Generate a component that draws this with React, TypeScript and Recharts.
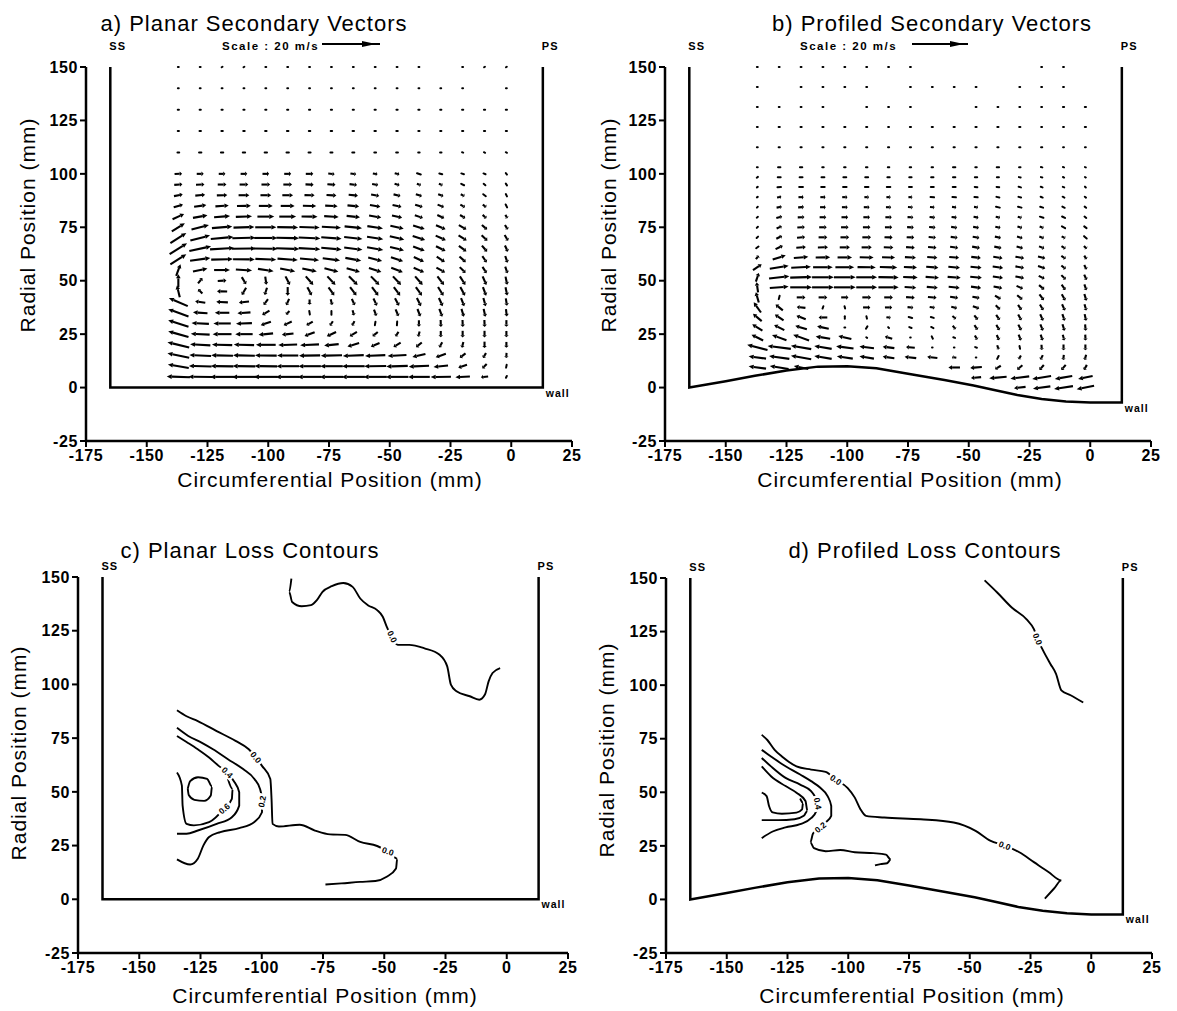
import React from 'react'
import { ComposedChart, Line, Scatter, XAxis, YAxis } from 'recharts'

const FONT = '"Liberation Sans", Arial, Helvetica, sans-serif'

const xTicks = [-175, -150, -125, -100, -75, -50, -25, 0, 25]
const yTicks = [-25, 0, 25, 50, 75, 100, 125, 150]

// measurement grid (mm)
const vectorCols = [-137, -128, -119, -110, -101, -92, -83, -74, -65, -56, -47, -38, -29, -20, -11, -2]
const planarRows = [150, 140, 130, 120, 110, 100, 95, 90, 85, 80, 75, 70, 65, 60, 55, 50, 45, 40, 35, 30, 25, 20, 15, 10, 5]
const profiledRows = [150, 140.6, 131.3, 121.9, 112.5, 103.1, 98.4, 93.8, 89.1, 84.4, 79.7, 75, 70.3, 65.6, 60.9, 56.3, 51.6, 46.9, 42.2, 37.5, 32.8, 28.1, 23.4, 18.8, 14.1, 9.4, 4.7, 0]

// secondary velocity components (m/s), one row per radial station
const planarU = [
  [0.3, 0.3, 0.3, 0.3, 0.3, 0.3, 0.3, 0.3, 0.3, 0.3, 0.3, 0.3, 0, 0.3, 0.3, 0.3],
  [0.3, 0.3, 0.3, 0.3, 0.3, 0.3, 0.3, 0.3, 0.3, 0.3, 0.3, 0.3, 0.3, 0.3, 0, 0.3],
  [0.4, 0.4, 0.4, 0.4, 0.4, 0.4, 0.4, 0.4, 0.4, 0.4, 0.4, 0.4, 0.4, 0.4, 0.4, 0.4],
  [0.4, 0.5, 0.5, 0.5, 0.5, 0.5, 0.5, 0.5, 0.5, 0.5, 0.5, 0.4, 0.4, 0.4, 0.4, 0.4],
  [0.6, 0.8, 0.8, 0.8, 0.8, 0.8, 0.7, 0.7, 0.7, 0.6, 0.6, 0.5, 0.5, 0.4, 0.4, 0.4],
  [2.6, 2.4, 2.3, 2.3, 2.3, 2.4, 2.6, 2.2, 2.0, 1.6, 1.6, 1.3, 1.0, 0.9, 0.7, 0.4],
  [2.8, 2.9, 3.0, 3.0, 3.0, 3.0, 2.8, 2.8, 2.6, 2.1, 1.7, 1.4, 1.3, 1.0, 0.6, 0.4],
  [3.0, 3.4, 3.6, 3.7, 3.7, 3.7, 3.5, 3.4, 3.2, 2.8, 2.4, 2.1, 1.8, 1.3, 0.9, 0.4],
  [3.2, 4.2, 4.6, 4.8, 4.8, 4.8, 4.6, 4.3, 4.0, 3.6, 3.1, 2.6, 2.2, 1.6, 1.2, 0.5],
  [4.0, 5.0, 5.5, 5.6, 5.8, 5.8, 5.5, 5.0, 4.6, 4.2, 3.5, 2.8, 2.4, 1.8, 1.3, 0.7],
  [4.5, 6.0, 7.0, 7.2, 7.3, 7.2, 7.0, 6.6, 6.0, 5.4, 4.6, 4.0, 3.3, 2.6, 1.8, 1.0],
  [5.5, 6.8, 7.8, 8.0, 8.0, 7.8, 7.5, 7.0, 6.3, 5.6, 5.0, 4.3, 3.5, 2.8, 2.0, 1.2],
  [6.0, 7.5, 8.3, 8.3, 8.2, 8.0, 7.5, 7.0, 6.3, 5.6, 4.8, 4.0, 3.3, 2.6, 1.8, 1.0],
  [5.5, 7.0, 7.5, 7.5, 7.2, 7.0, 6.6, 6.0, 5.5, 4.8, 4.2, 3.5, 2.8, 2.2, 1.5, 0.8],
  [1.5, 5.0, 5.5, 5.6, 5.4, 5.2, 5.0, 4.8, 4.6, 4.3, 4.0, 3.6, 3.0, 2.0, 1.4, 0.8],
  [0, 1.5, 3.0, 1.5, 0.4, 1.5, 2.6, 2.8, 3.0, 2.9, 2.8, 2.6, 2.3, 1.9, 1.3, 0.6],
  [-1.0, -1.5, -3.5, -1.5, -0.8, 0, 1.5, 2.0, 2.2, 2.2, 2.2, 2.1, 1.9, 1.6, 1.1, 0.6],
  [-6.5, -3.5, -4.0, -3.5, -1.5, -1.0, 0, 0.5, 1.0, 1.2, 1.4, 1.4, 1.3, 1.1, 0.8, 0.4],
  [-7.0, -5.0, -5.0, -4.5, -2.5, -1.2, 0.2, 0, 0.5, 0.8, 1.0, 1.0, 1.0, 0.8, 0.6, 0.3],
  [-7.0, -6.0, -6.0, -5.5, -3.5, -2.8, -2.2, -1.0, -0.8, -0.2, -0.1, 0, 0.1, 0.1, 0.1, 0],
  [-7.0, -6.5, -6.5, -6.0, -5.0, -4.0, -3.5, -3.2, -2.5, -1.8, -1.0, -0.5, 0, 0, 0, 0],
  [-7.5, -7.0, -7.0, -7.0, -6.8, -6.5, -6.5, -5.0, -4.0, -3.0, -2.5, -2.0, -1.0, -0.5, 0, 0],
  [-7.5, -7.5, -7.5, -7.5, -7.5, -7.3, -7.3, -7.3, -7.2, -7.0, -6.5, -4.5, -3.5, -2.0, -1.0, -0.1],
  [-7.2, -7.8, -7.8, -7.8, -7.8, -7.8, -7.8, -7.8, -7.8, -7.6, -7.4, -7.0, -5.0, -3.0, -1.5, -0.2],
  [-8.0, -8.2, -8.2, -8.2, -8.2, -8.2, -8.2, -8.0, -8.0, -8.0, -7.8, -7.5, -7.0, -5.0, -2.5, -0.3],
]
const planarV = [
  [0, 0, 0.2, 0.2, 0, 0, 0, 0, 0, 0, 0, 0, 0, 0, 0.2, 0.2],
  [0, 0, 0, 0, 0, 0, 0, 0, 0, 0, 0, 0, 0, 0, 0, 0],
  [0, 0, 0, 0, 0, 0, 0, 0, 0, 0, 0, 0, 0, 0, 0, 0],
  [0, 0, 0, 0, 0, 0, 0, 0, 0, 0, 0, 0, 0, 0, 0, 0],
  [0, 0, 0, 0, 0, 0, 0, 0, 0, 0, 0, 0, 0, -0.1, -0.2, -0.2],
  [0.1, 0, 0, 0, 0, 0, 0, -0.2, -0.3, -0.3, -0.4, -0.4, -0.3, -0.3, -0.3, -0.5],
  [0.2, 0.1, 0, 0, 0, 0, -0.1, -0.2, -0.3, -0.4, -0.5, -0.5, -0.5, -0.5, -0.5, -0.6],
  [0.6, 0.3, 0.1, 0, 0, 0, -0.1, -0.2, -0.3, -0.5, -0.6, -0.7, -0.7, -0.7, -0.7, -0.8],
  [1.0, 0.6, 0.3, 0.1, 0, 0, -0.1, -0.2, -0.4, -0.6, -0.7, -0.8, -0.9, -0.9, -0.9, -1.0],
  [1.8, 0.9, 0.4, 0.2, 0, 0, -0.1, -0.3, -0.5, -0.7, -0.8, -1.0, -1.1, -1.1, -1.2, -1.2],
  [2.8, 1.5, 0.6, 0.2, 0, -0.1, -0.2, -0.4, -0.6, -0.8, -1.0, -1.2, -1.4, -1.5, -1.6, -1.6],
  [3.5, 1.8, 0.7, 0.2, 0, -0.2, -0.3, -0.5, -0.7, -0.9, -1.2, -1.4, -1.6, -1.8, -1.9, -2.0],
  [3.8, 1.6, 0.5, 0.1, -0.1, -0.3, -0.4, -0.6, -0.8, -1.0, -1.2, -1.5, -1.7, -1.9, -2.1, -2.2],
  [3.5, 1.0, 0.2, -0.1, -0.3, -0.5, -0.6, -0.8, -1.0, -1.2, -1.4, -1.6, -1.8, -2.0, -2.2, -2.3],
  [4.0, 1.0, 0, -0.4, -0.8, -1.0, -1.1, -1.2, -1.3, -1.4, -1.5, -1.6, -1.7, -2.0, -2.2, -2.3],
  [4.5, 1.8, 0.2, -2.5, -2.8, -3.0, -3.0, -3.0, -3.0, -3.0, -3.0, -3.0, -3.0, -3.0, -3.0, -2.8],
  [4.0, 1.5, 0.1, -2.5, -2.5, -3.0, -2.8, -2.8, -2.9, -3.0, -3.0, -3.0, -3.0, -3.0, -3.0, -2.8],
  [2.8, 0.5, 0.2, -0.4, -2.0, -2.2, -1.8, -2.0, -2.2, -2.5, -2.6, -2.8, -2.8, -2.8, -2.8, -2.6],
  [2.5, 0.3, 0, -0.3, -1.5, -1.2, -1.2, -1.3, -1.8, -2.2, -2.4, -2.6, -2.7, -2.7, -2.7, -2.5],
  [2.2, 0.3, 0, -0.2, -1.2, -1.3, -1.3, -1.5, -1.6, -1.2, -1.3, -2.2, -2.4, -2.4, -2.4, -2.3],
  [2.0, 0.3, 0, 0, -0.5, -0.5, -1.3, -1.5, -1.5, -1.5, -1.6, -1.8, -2.2, -2.3, -2.3, -2.2],
  [1.8, 0.4, 0.2, 0.2, 0, -0.2, -0.3, -0.5, -1.2, -1.3, -1.5, -1.6, -1.8, -2.0, -2.2, -2.0],
  [1.5, 0.3, 0.2, 0.2, 0.1, 0, -0.1, -0.2, -0.3, -0.3, -0.4, -1.0, -1.2, -1.5, -1.8, -1.8],
  [1.2, 0.2, 0.1, 0.1, 0.1, 0, 0, 0, 0, -0.1, -0.2, -0.3, -0.5, -1.0, -1.5, -1.0],
  [0.3, 0.1, 0, 0, 0, 0, 0, 0, 0, 0, 0, 0, -0.1, -0.3, -0.3, -0.6],
]

const profiledU = [
  [0.3, 0.3, 0.3, 0.3, 0.3, 0.3, 0.3, 0.3, 0, 0, 0, 0, 0, 0.3, 0.3, 0],
  [0.3, 0, 0.3, 0.3, 0.3, 0.3, 0, 0.3, 0.3, 0.3, 0.3, 0, 0.3, 0.3, 0.3, 0],
  [0.3, 0.3, 0.3, 0.3, 0, 0.3, 0.3, 0.3, 0, 0, 0.3, 0.3, 0.3, 0.3, 0.4, 0.4],
  [0.3, 0.4, 0.4, 0.4, 0.4, 0.4, 0.3, 0.4, 0.4, 0.4, 0.4, 0.4, 0.4, 0.3, 0.3, 0.4],
  [0.3, 0.4, 0.4, 0.4, 0.4, 0.4, 0.4, 0.4, 0.4, 0.4, 0.4, 0.4, 0.4, 0.4, 0.3, 0.3],
  [0.3, 0.8, 0.8, 0.5, 0.5, 0.5, 0.5, 0.5, 0.5, 0.8, 0.5, 0.8, 0.5, 0.5, 0.4, 0.3],
  [0.4, 1.0, 1.0, 1.0, 1.0, 1.0, 0.8, 0.8, 0.8, 0.8, 0.8, 0.7, 0.6, 0.5, 0.4, 0.3],
  [0.3, 1.2, 1.3, 1.2, 1.2, 1.2, 1.2, 1.0, 1.0, 1.0, 0.9, 0.9, 0.8, 0.6, 0.5, 0.3],
  [0.3, 1.5, 1.8, 1.8, 1.8, 1.6, 1.5, 1.4, 1.2, 1.2, 1.1, 1.0, 0.9, 0.7, 0.6, 0.4],
  [0.3, 1.8, 2.0, 2.0, 2.0, 2.0, 1.8, 1.7, 1.6, 1.5, 1.4, 1.3, 1.2, 1.0, 0.8, 0.5],
  [0.4, 2.0, 2.3, 2.3, 2.3, 2.3, 2.2, 2.0, 1.9, 1.8, 1.7, 1.5, 1.4, 1.2, 1.0, 0.6],
  [0.4, 1.8, 2.6, 2.6, 2.6, 2.6, 2.5, 2.3, 2.2, 2.1, 2.0, 1.8, 1.6, 1.4, 1.1, 0.8],
  [0.5, 2.0, 2.8, 3.0, 3.0, 3.0, 2.8, 2.6, 2.5, 2.4, 2.3, 2.1, 1.9, 1.6, 1.3, 0.9],
  [0.8, 2.5, 3.3, 3.5, 3.5, 3.5, 3.3, 3.0, 2.9, 2.8, 2.7, 2.5, 2.2, 1.8, 1.4, 1.0],
  [1.0, 4.5, 5.0, 5.0, 5.0, 4.8, 4.5, 3.8, 3.5, 3.4, 3.3, 3.2, 3.0, 2.5, 1.5, 0.8],
  [3.0, 6.5, 6.8, 6.8, 6.5, 6.3, 6.0, 4.5, 4.2, 4.0, 3.8, 3.6, 3.0, 2.5, 1.5, 0.8],
  [1.0, 7.0, 7.5, 7.5, 7.5, 7.2, 7.0, 5.0, 4.6, 4.5, 4.0, 3.5, 3.0, 2.0, 1.5, 0.8],
  [-0.5, 6.5, 7.5, 7.5, 7.5, 7.2, 7.0, 4.0, 3.8, 3.8, 3.5, 3.0, 2.2, 1.8, 1.3, 0.7],
  [-1.0, 0.3, 3.0, 3.0, 2.5, 3.0, 3.0, 3.0, 3.0, 2.8, 2.5, 2.0, 1.8, 1.5, 1.2, 0.7],
  [-2.5, -2.5, -3.0, -0.3, 0.2, 2.5, 2.5, 2.0, 1.8, 2.0, 2.2, 1.5, 1.2, 1.2, 1.0, 0.6],
  [-3.0, -3.0, -3.2, -3.0, 0, 0.2, 1.5, 1.2, 1.0, 1.2, 1.2, 1.2, 1.1, 1.0, 0.8, 0.5],
  [-3.5, -3.5, -4.0, -4.0, -0.3, -0.5, 0.3, 0.8, 0.8, 1.0, 1.1, 1.1, 1.0, 0.9, 0.7, 0.2],
  [-4.0, -5.0, -5.5, -5.0, -4.5, 0.3, -2.5, 0.2, 0.4, 0.6, 0.8, 0.8, 0.8, 0.7, 0.5, 0.1],
  [-7.0, -8.0, -7.0, -6.0, -6.0, -5.0, -4.0, -3.0, 0.2, 0.2, 0.6, 0.5, 0.2, 0.1, 0, 0],
  [-6.0, -7.0, -7.0, -6.0, -5.5, -5.0, -4.0, -4.0, -3.5, -1.5, 0.2, -0.5, -0.8, -0.8, -0.2, -0.5],
  [-6.0, -6.5, -5.0, 0, 0, 0, 0, 0, 0, -4.0, -4.0, -2.0, -1.8, -1.5, -1.5, -1.0],
  [0, 0, 0, 0, 0, 0, 0, 0, 0, 0, -3.5, -6.0, -6.5, -6.5, -6.0, -5.0],
  [0, 0, 0, 0, 0, 0, 0, 0, 0, 0, 0, 0, -4.0, -6.0, -6.5, -6.0],
]
const profiledV = [
  [0, 0, 0, 0, 0, 0, 0, 0, 0, 0, 0, 0, 0, 0, 0, 0],
  [0, 0, 0, 0, 0, 0, 0, 0, 0, 0, 0, 0, 0, 0, 0, 0],
  [0, 0, 0, 0, 0, 0, 0, 0, 0, 0, 0, 0, 0, 0, 0, 0],
  [0, 0, 0, 0, 0, 0, 0, 0, 0, 0, 0, 0, 0, 0, 0, 0],
  [0, 0, 0, 0, 0, 0, 0, 0, 0, 0, 0, 0, 0, 0, 0, 0],
  [0, 0, 0, 0, 0, 0, 0, 0, 0, 0, 0, 0, 0, -0.1, -0.1, -0.1],
  [0.3, 0, 0, 0, 0, 0, 0, 0, 0, 0, 0, 0, -0.1, -0.1, -0.2, -0.2],
  [0.2, 0.1, 0, 0, 0, 0, 0, 0, 0, 0, -0.1, -0.1, -0.2, -0.2, -0.2, -0.3],
  [0.2, 0.2, 0, 0, 0, 0, 0, 0, -0.1, -0.1, -0.1, -0.2, -0.2, -0.3, -0.3, -0.3],
  [0.3, 0.3, 0.1, 0, 0, 0, 0, -0.1, -0.1, -0.2, -0.2, -0.3, -0.3, -0.3, -0.4, -0.4],
  [0.3, 0.5, 0.1, 0, 0, 0, 0, -0.1, -0.2, -0.2, -0.3, -0.3, -0.4, -0.4, -0.5, -0.5],
  [0.4, 0.8, 0.2, 0, 0, 0, 0, -0.1, -0.2, -0.3, -0.3, -0.4, -0.5, -0.5, -0.6, -0.6],
  [0.5, 1.0, 0.3, 0, 0, 0, -0.1, -0.1, -0.2, -0.3, -0.4, -0.5, -0.6, -0.6, -0.7, -0.8],
  [0.6, 1.2, 0.3, 0.1, 0, 0, -0.1, -0.2, -0.3, -0.4, -0.5, -0.5, -0.6, -0.7, -0.9, -1.0],
  [1.2, 1.5, 0.4, 0.1, 0, -0.1, -0.1, -0.2, -0.3, -0.3, -0.4, -0.5, -0.5, -0.6, -1.0, -1.2],
  [2.0, 1.0, 0.3, 0, 0, -0.1, -0.2, -0.2, -0.3, -0.4, -0.4, -0.5, -0.6, -0.8, -1.2, -1.5],
  [3.0, 0.8, 0.2, 0, 0, 0, -0.1, -0.2, -0.3, -0.3, -0.4, -0.5, -0.6, -1.0, -1.5, -1.8],
  [3.5, 0.5, 0, 0, 0, 0, 0, -0.2, -0.3, -0.4, -0.5, -0.6, -1.0, -1.5, -1.8, -2.0],
  [3.5, 1.2, 0, 0, 0, 0, 0, -0.2, -0.3, -0.4, -0.5, -1.2, -1.5, -2.0, -2.2, -2.3],
  [3.5, 2.0, 0.3, -0.8, -0.8, 0, 0, -0.2, -0.3, -0.5, -0.8, -1.5, -1.8, -2.0, -2.2, -2.2],
  [2.5, 2.0, 1.2, 0, -0.8, -0.8, -0.2, -0.3, -0.3, -1.0, -1.5, -1.8, -2.0, -2.2, -2.3, -2.3],
  [2.2, 1.8, 1.2, 0.8, 0, -0.8, -0.3, -0.3, -0.4, -1.2, -1.6, -1.8, -2.0, -2.2, -2.3, -2.2],
  [2.0, 1.8, 2.0, 0.8, 1.0, -0.2, 0.8, 0, -0.8, -0.2, -1.5, -1.8, -2.0, -2.0, -2.0, -2.0],
  [1.8, 1.0, 1.2, 1.0, 0.8, 0.6, 0.5, 0.3, 0, 0, -0.2, -1.5, -1.0, -1.8, -2.0, -2.0],
  [0.8, 1.0, 1.2, 1.0, 0.8, 0.8, 0.6, 0.5, 0.4, 0.2, 0, -1.0, -1.3, -1.6, -1.8, -1.8],
  [0.8, 1.0, 1.0, 0, 0, 0, 0, 0, 0, 0, -0.3, -1.2, -1.5, -1.7, -1.8, -1.8],
  [0, 0, 0, 0, 0, 0, 0, 0, 0, 0, -0.3, -0.5, -0.8, -1.0, -1.0, -1.0],
  [0, 0, 0, 0, 0, 0, 0, 0, 0, 0, 0, 0, -0.5, -0.8, -1.0, -1.2],
]

// passage outline: suction side, endwall, pressure side
const planarOutline = [[-165, 150], [-165, 0], [13, 0], [13, 150]]
const profiledOutline = [
  [-165, 150], [-165, 0], [-150, 3], [-138, 5.5], [-125, 8], [-112, 9.8], [-100, 10], [-88, 9],
  [-75, 6.5], [-60, 3.5], [-48, 1], [-40, -1], [-30, -3.5], [-20, -5.3], [-10, -6.5], [0, -7], [13, -7], [13, 150],
]

// loss contours, planar endwall
const cOuter00 = [
  [-87.9, 149.2], [-88.8, 143.1], [-87.6, 138.4], [-83.7, 136.4], [-79.9, 136.9], [-77.5, 139.2], [-75.2, 143.1],
  [-71.4, 145.7], [-66.7, 147.2], [-62.9, 145.4], [-59.8, 140], [-56.7, 136.9], [-52.9, 134.6], [-50.6, 131.5],
  [-49, 126.9], [-47.5, 123], [-46, 120], [-44.4, 118.4], [-39.8, 118.4], [-33.6, 116.8], [-27.4, 113.8],
  [-24.3, 108.4], [-22.8, 99.9], [-20.5, 96.8], [-15.1, 94.5], [-11.2, 92.9], [-8.9, 95.3], [-7.4, 101.4],
  [-5.8, 105.3], [-2.7, 107.6],
]
const cLower00 = [
  [-134.6, 88], [-130.7, 85.2], [-126.1, 82.9], [-118.4, 78.3], [-110.7, 73.7], [-105.3, 69.8], [-99.9, 62.1],
  [-96.5, 56], [-96, 46.7], [-95.6, 35.1], [-93, 33.9], [-84.5, 34.7], [-78.3, 32], [-72.1, 30.2], [-66, 30],
  [-59.8, 26.7], [-52.9, 24.8], [-48.2, 22], [-44.7, 18.9], [-45.2, 14.3], [-49, 10.5], [-53.6, 8.5],
  [-59.8, 8.1], [-67.5, 7.4], [-74, 6.9],
]
const c02 = [
  [-134.6, 79.8], [-130, 76], [-124.6, 72.9], [-119.9, 69.8], [-113.8, 65.2], [-107.6, 60.6], [-103, 56],
  [-100.7, 51.3], [-99.9, 46.7], [-99.9, 40.5], [-103, 36], [-109.2, 33.1], [-116.9, 31.3], [-121.5, 29],
  [-123.8, 25.1], [-126.1, 18.9], [-129.2, 16.2], [-134.6, 18.6],
]
const c04 = [
  [-134.6, 76], [-130.7, 73.2], [-126.1, 69.8], [-121.5, 66], [-117.6, 62.1], [-114.1, 59], [-111.5, 55.2],
  [-109.2, 49.8], [-109.2, 43.6], [-112.2, 38.2], [-118.4, 35.1], [-126.1, 32], [-130.7, 30.5], [-134.6, 30.5],
]
const c06 = [
  [-134.6, 59], [-132.6, 52.9], [-132.3, 43.6], [-130.7, 35.1], [-127.7, 34.4], [-121.5, 35.9], [-114.9, 42.8],
  [-112.2, 46.7], [-111.9, 51.3], [-113.8, 56],
]
const c08 = [
  [-130.2, 51.5], [-129.2, 55], [-126, 56.8], [-122.3, 56], [-120.3, 52.5], [-120.8, 48.3], [-123.5, 45.8],
  [-127.5, 46.3], [-129.8, 48.5], [-130.2, 51.5],
]
const cLabels = [
  { x: -46.7, y: 122.2, text: '0.0', angle: 65 },
  { x: -102.4, y: 66, text: '0.0', angle: 50 },
  { x: -48.5, y: 22.3, text: '0.0', angle: 20 },
  { x: -114.1, y: 59, text: '0.4', angle: 45 },
  { x: -99.9, y: 45.5, text: '0.2', angle: -80 },
  { x: -115.3, y: 42.2, text: '0.6', angle: -40 },
]

// loss contours, profiled endwall
const dOuter00 = [
  [-43.9, 148.9], [-38.6, 143.1], [-32.6, 136.1], [-26.6, 130.7], [-23.6, 126.1], [-22.1, 121.5], [-19.8, 116.1],
  [-16.8, 109.9], [-14.5, 105.3], [-12.3, 97.6], [-8.5, 95.3], [-3.3, 91.9],
]
const dLower00 = [
  [-135.6, 76.8], [-133.3, 74.4], [-130.3, 69.8], [-127.3, 66.7], [-121.3, 62.1], [-115.3, 60.6], [-109.3, 59.5],
  [-105.1, 55.8], [-100.3, 52.1], [-97.3, 47.5], [-95, 42.1], [-92.7, 39], [-85.2, 38.2], [-70.2, 37.4],
  [-56.6, 35.9], [-47.6, 32], [-41.6, 27.4], [-35.6, 25.1], [-29.6, 22], [-23.6, 17.4], [-17.6, 12.8],
  [-12.3, 8.9], [-15.3, 5.1], [-19.1, 0.4],
]
const d02 = [
  [-135.6, 69.8], [-131.8, 66.7], [-127.3, 63.2], [-119.8, 58.3], [-115.3, 55.2], [-111.5, 52.1], [-108.5, 48.2],
  [-107, 43.6], [-107, 39], [-109.3, 35.9], [-111.5, 33.6], [-114.5, 30.8], [-115.6, 26.6], [-114.1, 23.9],
  [-109.3, 22.5], [-103.3, 23.1], [-97.3, 22], [-89.7, 21.6], [-84.5, 20.9], [-82.5, 18.6], [-84, 16.9],
  [-86.7, 16.5], [-89, 15.9],
]
const d04 = [
  [-135.6, 66], [-131.8, 62.1], [-125.8, 56.7], [-119.8, 53.6], [-115.3, 50.5], [-113.5, 47.5], [-112.6, 44.7],
  [-113.1, 41.3], [-115.3, 37.9], [-119.8, 35.1], [-125.8, 33.6], [-131.1, 31.7], [-135.6, 28.6],
]
const d06 = [
  [-135.6, 62.1], [-131.8, 57.5], [-125.8, 52.9], [-121.3, 49.8], [-117.6, 45.9], [-116.8, 41.3], [-118.3, 39],
  [-122.1, 37.4], [-128.8, 37], [-135.6, 37],
]
const d08 = [
  [-135.6, 49.8], [-133.6, 48.2], [-132.6, 43.6], [-131.1, 40.6], [-127.3, 40], [-121.3, 40.5], [-119, 42],
  [-118.6, 45.1], [-119.8, 47.1],
]
const dLabels = [
  { x: -22.1, y: 121.5, text: '0.0', angle: 68 },
  { x: -105.1, y: 55.8, text: '0.0', angle: 35 },
  { x: -35.6, y: 25.1, text: '0.0', angle: 22 },
  { x: -112.6, y: 44.7, text: '0.4', angle: 80 },
  { x: -111.5, y: 33.6, text: '0.2', angle: -40 },
]

const toPts = (arr: number[][]) => arr.map(([x, y]) => ({ x, y }))
const toVectors = (rows: number[], U: number[][], V: number[][]) =>
  rows
    .flatMap((y, i) => vectorCols.map((x, j) => ({ x, y, u: U[i][j], v: V[i][j] })))
    .filter((p) => p.u !== 0 || p.v !== 0)

const K = 2.9 // px per m/s

const renderVector = (props: any) => {
  const { cx, cy, payload } = props
  if (cx == null || cy == null) return <g />
  const dx = payload.u * K
  const dy = -payload.v * K
  const len = Math.hypot(dx, dy)
  const x1 = cx - dx / 2
  const y1 = cy - dy / 2
  const x2 = cx + dx / 2
  const y2 = cy + dy / 2
  if (len < 4) {
    return <line x1={x1} y1={y1} x2={x2} y2={y2} stroke="#000" strokeWidth={2} strokeLinecap="round" />
  }
  const ux = dx / len
  const uy = dy / len
  const h = Math.min(5, len * 0.32)
  const w = 2.3
  const bx = x2 - ux * h
  const by = y2 - uy * h
  return (
    <g>
      <line x1={x1} y1={y1} x2={bx} y2={by} stroke="#000" strokeWidth={2.1} />
      <polygon points={`${x2},${y2} ${bx - uy * w},${by + ux * w} ${bx + uy * w},${by - ux * w}`} fill="#000" />
    </g>
  )
}

const renderContourLabel = (props: any) => {
  const { cx, cy, payload } = props
  return (
    <g transform={`rotate(${payload.angle} ${cx} ${cy})`}>
      <rect x={cx - 8} y={cy - 4.5} width={16} height={9} fill="#fff" />
      <text x={cx} y={cy} textAnchor="middle" dominantBaseline="central" fontSize={8.5} fontWeight={700} fontFamily={FONT} fill="#000">
        {payload.text}
      </text>
    </g>
  )
}

const makeSideLabel = (topGap: number) => (props: any) => {
  const { cx, cy, payload } = props
  const isWall = payload.text === 'wall'
  return (
    <text
      x={isWall ? cx + 3 : cx - 1}
      y={isWall ? cy + 9 : cy - topGap}
      fontSize={isWall ? 10.5 : 11}
      fontWeight={700}
      fontFamily={FONT}
      letterSpacing={1}
      fill="#000"
    >
      {payload.text}
    </text>
  )
}

const tickStyle = { fill: '#000', fontSize: 16, fontWeight: 700, fontFamily: FONT, letterSpacing: 0.6 }

interface PanelProps {
  left: number
  top: number
  width: number
  height: number
  right: number
  topGap: number
  outline: number[][]
  wallY: number
  vectors?: { x: number; y: number; u: number; v: number }[]
  contours?: number[][][]
  labels?: { x: number; y: number; text: string; angle: number }[]
}

const Panel: React.FC<PanelProps> = ({ left, top, width, height, right, topGap, outline, wallY, vectors, contours, labels }) => {
  const sideLabels = [
    { x: -165, y: 150, text: 'SS' },
    { x: 13, y: 150, text: 'PS' },
    { x: 13, y: wallY, text: 'wall' },
  ]
  return (
    <div style={{ position: 'absolute', left: left - 60, top: top - 30 }}>
      <ComposedChart width={width + 60 + right} height={height + 60} margin={{ top: 30, right, bottom: 0, left: 0 }}>
        <XAxis
          type="number"
          dataKey="x"
          domain={[-175, 25]}
          ticks={xTicks}
          interval={0}
          height={30}
          axisLine={{ stroke: '#000', strokeWidth: 2.5 }}
          tickLine={{ stroke: '#000', strokeWidth: 2 }}
          tickSize={6}
          tickMargin={3}
          tick={tickStyle}
        />
        <YAxis
          type="number"
          dataKey="y"
          domain={[-25, 150]}
          ticks={yTicks}
          interval={0}
          width={60}
          axisLine={{ stroke: '#000', strokeWidth: 2.5 }}
          tickLine={{ stroke: '#000', strokeWidth: 2 }}
          tickSize={6}
          tick={tickStyle}
        />
        <Line data={toPts(outline)} dataKey="y" type="linear" stroke="#000" strokeWidth={2.5} dot={false} activeDot={false} isAnimationActive={false} />
        {(contours || []).map((c, i) => (
          <Line key={i} data={toPts(c)} dataKey="y" type="monotone" stroke="#000" strokeWidth={1.9} dot={false} activeDot={false} isAnimationActive={false} />
        ))}
        {vectors && <Scatter data={vectors} dataKey="y" shape={renderVector} isAnimationActive={false} />}
        {labels && <Scatter data={labels} dataKey="y" shape={renderContourLabel} isAnimationActive={false} />}
        <Scatter data={sideLabels} dataKey="y" shape={makeSideLabel(topGap)} isAnimationActive={false} />
      </ComposedChart>
    </div>
  )
}

const titleStyle = { fontFamily: FONT, fontSize: 22, letterSpacing: 1, fill: '#000' }
const axisTitleStyle = { fontFamily: FONT, fontSize: 21, letterSpacing: 1, fill: '#000' }
const scaleStyle = { fontFamily: FONT, fontSize: 11.5, fontWeight: 700, letterSpacing: 1.5, fill: '#000' }

const ScaleArrow: React.FC<{ x1: number; x2: number; y: number }> = ({ x1, x2, y }) => (
  <g>
    <line x1={x1} y1={y} x2={x2} y2={y} stroke="#000" strokeWidth={2} />
    <polygon points={`${x2 - 4},${y} ${x2 - 18},${y - 3} ${x2 - 18},${y + 3}`} fill="#000" />
  </g>
)

const App: React.FC = () => {
  const planarVectors = toVectors(planarRows, planarU, planarV)
  const profiledVectors = toVectors(profiledRows, profiledU, profiledV)

  return (
    <div style={{ position: 'absolute', left: 0, top: 0, width: 1177, height: 1011, background: '#fff', overflow: 'hidden' }}>
      <Panel left={86} top={67} width={486} height={374} right={30} topGap={17} outline={planarOutline} wallY={0} vectors={planarVectors} />
      <Panel left={665} top={67} width={486} height={374} right={20} topGap={17} outline={profiledOutline} wallY={-7} vectors={profiledVectors} />
      <Panel
        left={78}
        top={577}
        width={490}
        height={376}
        right={30}
        topGap={7}
        outline={planarOutline}
        wallY={0}
        contours={[cOuter00, cLower00, c02, c04, c06, c08]}
        labels={cLabels}
      />
      <Panel
        left={666}
        top={578}
        width={486}
        height={375}
        right={20}
        topGap={7}
        outline={profiledOutline}
        wallY={-7}
        contours={[dOuter00, dLower00, d02, d04, d06, d08]}
        labels={dLabels}
      />
      <svg width={1177} height={1011} style={{ position: 'absolute', left: 0, top: 0, pointerEvents: 'none' }}>
        <text x={254} y={31} textAnchor="middle" {...titleStyle}>a) Planar Secondary Vectors</text>
        <text x={932} y={31} textAnchor="middle" {...titleStyle}>b) Profiled Secondary Vectors</text>
        <text x={250} y={558} textAnchor="middle" {...titleStyle}>c) Planar Loss Contours</text>
        <text x={925} y={558} textAnchor="middle" {...titleStyle}>d) Profiled Loss Contours</text>

        <text x={222} y={50} {...scaleStyle}>Scale : 20 m/s</text>
        <ScaleArrow x1={322} x2={380} y={44} />
        <text x={800} y={50} {...scaleStyle}>Scale : 20 m/s</text>
        <ScaleArrow x1={912} x2={968} y={44} />

        <text transform="translate(27,225) rotate(-90)" textAnchor="middle" dominantBaseline="central" {...axisTitleStyle}>Radial Position (mm)</text>
        <text transform="translate(608,225) rotate(-90)" textAnchor="middle" dominantBaseline="central" {...axisTitleStyle}>Radial Position (mm)</text>
        <text transform="translate(18,753) rotate(-90)" textAnchor="middle" dominantBaseline="central" {...axisTitleStyle}>Radial Position (mm)</text>
        <text transform="translate(606,750) rotate(-90)" textAnchor="middle" dominantBaseline="central" {...axisTitleStyle}>Radial Position (mm)</text>

        <text x={330} y={487} textAnchor="middle" {...axisTitleStyle}>Circumferential Position (mm)</text>
        <text x={910} y={487} textAnchor="middle" {...axisTitleStyle}>Circumferential Position (mm)</text>
        <text x={325} y={1003} textAnchor="middle" {...axisTitleStyle}>Circumferential Position (mm)</text>
        <text x={912} y={1003} textAnchor="middle" {...axisTitleStyle}>Circumferential Position (mm)</text>
      </svg>
    </div>
  )
}

export default App
